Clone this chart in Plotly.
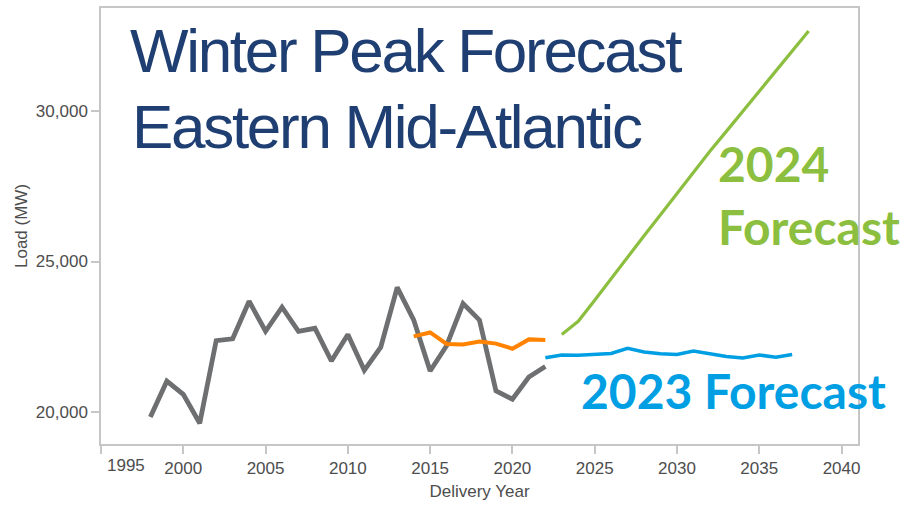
import plotly.graph_objects as go

# Historical winter peak load (MW)
hist_years = list(range(1998, 2023))
hist_load = [19830, 21020, 20580, 19620, 22370, 22430, 23680, 22680, 23480, 22680,
             22780, 21690, 22570, 21380, 22150, 24140, 23060, 21360, 22200, 23600,
             23050, 20700, 20420, 21160, 21510]

# Earlier weather-normalized series
orange_years = list(range(2014, 2023))
orange_load = [22510, 22640, 22260, 22240, 22340, 22270, 22100, 22410, 22390]

# 2023 load forecast
f2023_years = list(range(2022, 2038))
f2023_load = [21800, 21890, 21880, 21920, 21940, 22110, 21990, 21930, 21910, 22020,
              21920, 21840, 21790, 21890, 21820, 21910]

# 2024 load forecast
f2024_years = list(range(2023, 2039))
f2024_load = [22570, 23010, 23710, 24440, 25130, 25860, 26560, 27270, 28000, 28670,
              29330, 30000, 30670, 31330, 32000, 32670]

x_ticks = [1995, 2000, 2005, 2010, 2015, 2020, 2025, 2030, 2035, 2040]
y_ticks = [20000, 25000, 30000]

W, H = 909, 506
L, R, T, B = 101, 51, 6, 62
PW, PH = W - L - R, H - T - B

GRAY = "#6E6F71"
ORANGE = "#FF8200"
GREEN = "#8CBF3F"
BLUE = "#009FE3"
NAVY = "#1F3F73"
FRAME = "#C6C6C6"
TXT = "#4D4D4D"

fig = go.Figure()
fig.add_trace(go.Scatter(x=hist_years, y=hist_load, mode="lines",
                         line=dict(color=GRAY, width=4.8), hoverinfo="skip"))
fig.add_trace(go.Scatter(x=orange_years, y=orange_load, mode="lines",
                         line=dict(color=ORANGE, width=4), hoverinfo="skip"))
fig.add_trace(go.Scatter(x=f2023_years, y=f2023_load, mode="lines",
                         line=dict(color=BLUE, width=3.5), hoverinfo="skip"))
fig.add_trace(go.Scatter(x=f2024_years, y=f2024_load, mode="lines",
                         line=dict(color=GREEN, width=3.2), hoverinfo="skip"))


def px(xp):
    return (xp - L) / PW


def py(yp):
    return (H - B - yp) / PH


annotations = []


def label(text, x, y, size, color, family, weight="normal"):
    annotations.append(dict(
        text=text, xref="paper", yref="paper", x=px(x), y=py(y),
        xanchor="left", yanchor="middle", showarrow=False,
        font=dict(size=size, color=color, family=family, weight=weight)))


# tightly tracked headline
title_font = "Liberation Sans, Arial"
tight = '<span style="letter-spacing:-2.3px">{}</span>'
label(tight.format("Winter Peak Forecast"), 128, 49, 62, NAVY, title_font)
label(tight.format("Eastern Mid-Atlantic"), 130, 125, 62, NAVY, title_font)

callout_font = "Lato, Carlito, Calibri, sans-serif"
label("2024", 716, 162, 48, GREEN, callout_font, "bold")
label("Forecast", 716, 226, 48, GREEN, callout_font, "bold")
label("2023 Forecast", 579, 390, 48, BLUE, callout_font, "bold")

# first tick label sits just inside the left edge
annotations.append(dict(text="1995", xref="x", yref="paper", x=1995, y=py(466),
                        xanchor="left", yanchor="middle", xshift=4, showarrow=False,
                        font=dict(size=17, color=TXT, family="Liberation Sans, Arial")))

fig.update_layout(
    width=W, height=H,
    margin=dict(l=L, r=R, t=T, b=B),
    paper_bgcolor="white", plot_bgcolor="white",
    showlegend=False,
    annotations=annotations,
    font=dict(family="Liberation Sans, Arial", color=TXT),
)

fig.update_xaxes(
    range=[1995, 2041], tickvals=x_ticks,
    ticktext=[""] + [str(v) for v in x_ticks[1:]],
    showgrid=False, zeroline=False,
    showline=True, linecolor=FRAME, linewidth=1.5, mirror=True,
    ticks="outside", ticklen=8, tickcolor=FRAME, tickwidth=1.5,
    tickfont=dict(size=17, color=TXT),
    title=dict(text="Delivery Year", font=dict(size=17, color=TXT), standoff=8),
)
fig.update_yaxes(
    range=[18930, 33434], tickvals=y_ticks, tickformat=",d",
    showgrid=False, zeroline=False,
    showline=True, linecolor=FRAME, linewidth=1.5, mirror=True,
    ticks="outside", ticklen=8, tickcolor=FRAME, tickwidth=1.5,
    tickfont=dict(size=17, color=TXT),
    title=dict(text="Load (MW)", font=dict(size=17, color=TXT), standoff=4),
)

fig.write_html("out.html")
